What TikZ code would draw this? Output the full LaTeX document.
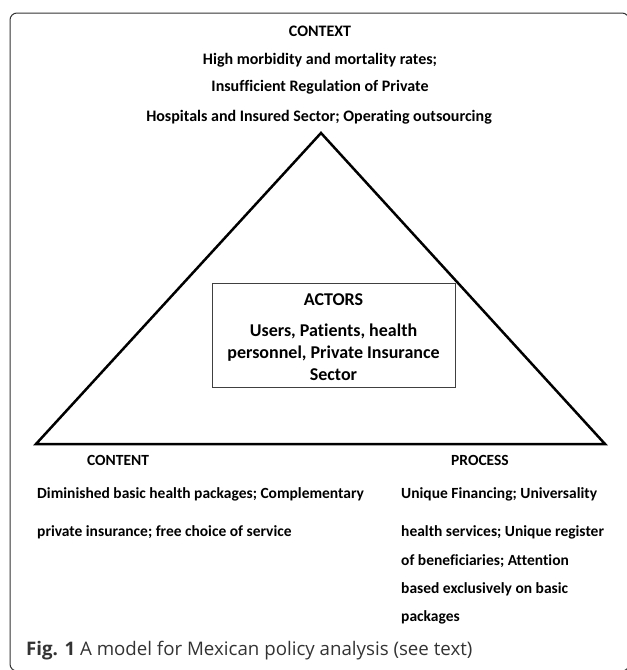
\documentclass[tikz,border=0pt]{standalone}
\usepackage{fontspec}
\setmainfont{Carlito}[Ligatures=NoCommon]
\newfontfamily\capfont{Open Sans}

\begin{document}
\begin{tikzpicture}[x=1pt,y=-1pt,
  txt/.style={font=\fontsize{15.5}{18}\selectfont\bfseries,inner sep=0pt,anchor=mid},
  toptxt/.style={txt,font=\fontsize{16}{18}\selectfont\bfseries},
  lefttxt/.style={txt,anchor=mid west}]
\useasboundingbox (0,0) rectangle (627,670);
% outer frame
\draw[black!80,line width=1pt,rounded corners=7pt] (10,13) rectangle (629,671);
% context
\node[toptxt] (context) at (320,34) {CONTEXT};
\node[toptxt] (ctxa) at (320,62) {High morbidity and mortality rates;};
\node[toptxt] (ctxb) at (320,89) {Insufficient Regulation of Private};
\node[toptxt] (ctxc) at (319,119) {Hospitals and Insured Sector; Operating outsourcing};
% triangle
\coordinate (apex) at (321,133);
\coordinate (left) at (36,444);
\coordinate (right) at (605,444);
\draw[line width=2.5pt] (apex) -- (left) -- (right) -- cycle;
% actors
\node[draw=black!75,line width=.8pt,minimum width=243,minimum height=104,inner sep=0pt] (actors) at (333.5,335) {};
\node[txt,font=\fontsize{18}{22}\selectfont\bfseries,align=center,anchor=center] (actorstxt) at (333.5,337)
  {ACTORS\\[9pt]Users, Patients, health\\personnel, Private Insurance\\Sector};
% content
\node[txt] (content) at (118,463) {CONTENT};
\node[lefttxt] (conta) at (37,496) {Diminished basic health packages; Complementary};
\node[lefttxt] (contb) at (37,534) {private insurance; free choice of service};
% process
\node[txt] (process) at (480,463) {PROCESS};
\node[lefttxt] (proca) at (401,496) {Unique Financing; Universality};
\node[lefttxt] (procb) at (401,534) {health services; Unique register};
\node[lefttxt] (procc) at (401,563) {of beneficiaries; Attention};
\node[lefttxt] (procd) at (401,591) {based exclusively on basic};
\node[lefttxt] (proce) at (401,619) {packages};
% caption
\node[inner sep=0pt,anchor=mid west,font=\capfont\fontsize{18.7}{22}\selectfont,black!80] (caption) at (26,653)
  {\textbf{Fig. 1} A model for Mexican policy analysis (see text)};
\end{tikzpicture}
\end{document}
